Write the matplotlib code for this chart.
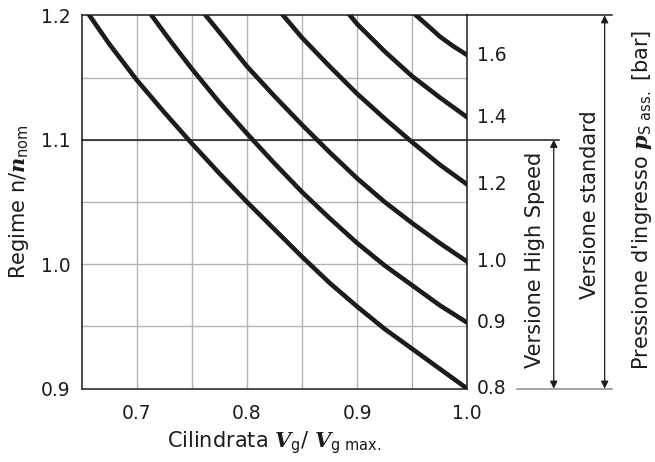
import numpy as np
import matplotlib
matplotlib.use("Agg")
import matplotlib.pyplot as plt

plt.rcParams["font.family"] = "DejaVu Sans"
plt.rcParams["mathtext.fontset"] = "custom"
plt.rcParams["mathtext.rm"] = "DejaVu Sans"
plt.rcParams["mathtext.it"] = "DejaVu Serif:italic:bold"

# curve data: displacement ratio Vg/Vg max vs speed ratio n/n_nom, one per inlet pressure
pressures = ["0.8", "0.9", "1.0", "1.2", "1.4", "1.6"]

vg_08 = [0.657, 0.675, 0.70, 0.725, 0.75, 0.775, 0.80, 0.825, 0.85, 0.875, 0.90, 0.925, 0.95, 0.975, 1.00]
n_08 = [1.200, 1.177, 1.148, 1.122, 1.097, 1.073, 1.050, 1.028, 1.006, 0.985, 0.966, 0.948, 0.932, 0.916, 0.900]

vg_09 = [0.7134, 0.73, 0.75, 0.775, 0.80, 0.825, 0.85, 0.875, 0.90, 0.925, 0.95, 0.975, 1.00]
n_09 = [1.200, 1.180, 1.157, 1.130, 1.105, 1.081, 1.058, 1.037, 1.017, 0.999, 0.983, 0.967, 0.953]

vg_10 = [0.7625, 0.78, 0.80, 0.825, 0.85, 0.875, 0.90, 0.925, 0.95, 0.975, 1.00]
n_10 = [1.200, 1.181, 1.159, 1.135, 1.112, 1.090, 1.069, 1.050, 1.033, 1.017, 1.002]

vg_12 = [0.8328, 0.85, 0.875, 0.90, 0.925, 0.95, 0.975, 1.00]
n_12 = [1.200, 1.182, 1.159, 1.137, 1.117, 1.098, 1.080, 1.064]

vg_14 = [0.8935, 0.90, 0.925, 0.95, 0.975, 1.00]
n_14 = [1.200, 1.193, 1.171, 1.151, 1.134, 1.118]

vg_16 = [0.9535, 0.965, 0.975, 0.9875, 1.00]
n_16 = [1.200, 1.191, 1.183, 1.175, 1.168]

curves = [(vg_08, n_08), (vg_09, n_09), (vg_10, n_10),
          (vg_12, n_12), (vg_14, n_14), (vg_16, n_16)]

x_ticks = [0.7, 0.8, 0.9, 1.0]
y_ticks = [0.9, 1.0, 1.1, 1.2]

ink = "#1c1c1c"
grid_col = "#b3b3b3"

fig = plt.figure(figsize=(6.55, 4.62), dpi=100)
ax = fig.add_axes([0.1247, 0.1587, 0.5887, 0.8082])
ax.set_xlim(0.65, 1.0)
ax.set_ylim(0.9, 1.2)

# grid every 0.05
for gx in np.arange(0.70, 0.999, 0.05):
    ax.axvline(gx, color=grid_col, lw=1.0, zorder=1)
for gy in np.arange(0.95, 1.199, 0.05):
    ax.axhline(gy, color=grid_col, lw=1.0, zorder=1)

for vg, n in curves:
    ax.plot(vg, n, color=ink, lw=3.3, solid_joinstyle="round", zorder=3)

# pressure labels at the right end of every curve
for label, (vg, n) in zip(pressures, curves):
    ax.annotate(label, xy=(1.0, n[-1]), xytext=(7, 0), textcoords="offset points",
                va="center", ha="left", fontsize=13.5, color=ink, annotation_clip=False)

ax.set_xticks(x_ticks)
ax.set_yticks(y_ticks)
ax.set_xticklabels([f"{v:.1f}" for v in x_ticks])
ax.set_yticklabels([f"{v:.1f}" for v in y_ticks])
ax.tick_params(length=0, labelsize=13.5, labelcolor=ink)
ax.tick_params(axis="x", pad=11)
ax.tick_params(axis="y", pad=8)

for s in ax.spines.values():
    s.set_color(ink)
    s.set_linewidth(1.1)

# range lines and arrows to the right of the chart
ax.plot([0.65, 1.0836], [1.1, 1.1], color=ink, lw=1.1, clip_on=False, zorder=2)
ax.plot([1.0, 1.1314], [1.2, 1.2], color=ink, lw=1.1, clip_on=False, zorder=2)
ax.plot([1.0447, 1.1314], [0.9, 0.9], color="#8a8a8a", lw=1.1, clip_on=False, zorder=2)

arrow = dict(arrowstyle="<|-|>", color=ink, lw=0.9, mutation_scale=11,
             shrinkA=0, shrinkB=0)
ax.annotate("", xy=(1.0785, 1.1), xytext=(1.0785, 0.9), arrowprops=arrow,
            annotation_clip=False)
ax.annotate("", xy=(1.1247, 1.2), xytext=(1.1247, 0.9), arrowprops=arrow,
            annotation_clip=False)

fig.text(0.8168, 0.437, "Versione High Speed", rotation=90, ha="center", va="center",
         fontsize=15, color=ink)
fig.text(0.9008, 0.556, "Versione standard", rotation=90, ha="center", va="center",
         fontsize=15, color=ink)
fig.text(0.9797, 0.567, r"Pressione d'ingresso $p_\mathrm{S\ ass.}$ [bar]", rotation=90,
         ha="center", va="center", fontsize=15, color=ink)

ax.set_ylabel(r"Regime n/$n_\mathrm{nom}$", fontsize=15, color=ink, labelpad=7)
ax.set_xlabel(r"Cilindrata $V_\mathrm{g}$/ $V_\mathrm{g\ max.}$", fontsize=15, color=ink,
              labelpad=5)

fig.savefig("out.png", dpi=100)
